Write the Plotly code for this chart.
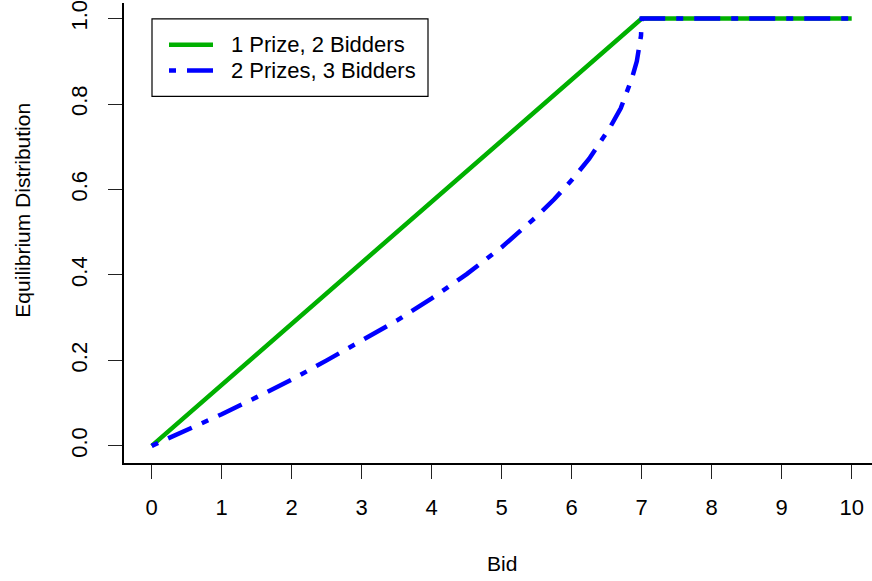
import plotly.graph_objects as go

# Equilibrium bid distributions
bid_one = [0, 7, 10]
cdf_one = [0.0, 1.0, 1.0]

bid_two = [0, 0.5, 1, 1.5, 2, 2.5, 3, 3.5, 4, 4.5, 5, 5.5, 5.75, 6, 6.25, 6.4,
           6.55, 6.7, 6.78, 6.86, 6.93, 6.97, 6.99, 7, 10]
cdf_two = [0.0, 0.036, 0.074, 0.114, 0.155, 0.20, 0.245, 0.293, 0.345, 0.402,
           0.465, 0.537, 0.577, 0.622, 0.672, 0.707, 0.746, 0.79, 0.823, 0.86,
           0.90, 0.935, 0.96, 1.0, 1.0]

series_names = ["1 Prize, 2 Bidders", "2 Prizes, 3 Bidders"]
series_colors = ["#00b000", "#0000ff"]
series_dash = ["solid", "7px,11px,26px,11px"]

x_ticks = list(range(0, 11))
y_ticks = [0.0, 0.2, 0.4, 0.6, 0.8, 1.0]
y_tick_text = ["0.0", "0.2", "0.4", "0.6", "0.8", "1.0"]

FONT = "Liberation Sans, Arial, Helvetica, sans-serif"
FS = 22
FS_TITLE = 21
LW = 4.5

W, H = 872, 581
L, R, T, B = 124, 0, 0, 118
pw, ph = W - L - R, H - T - B


def px_x(p):
    return (p - L) / pw


def px_y(p):
    return 1 - (p - T) / ph


fig = go.Figure()
for xs, ys, name, col, dash in zip([bid_one, bid_two], [cdf_one, cdf_two],
                                   series_names, series_colors, series_dash):
    fig.add_trace(go.Scatter(
        x=xs, y=ys, mode="lines", name=name, showlegend=False,
        line=dict(color=col, width=LW, dash=dash),
    ))

# Legend box drawn in pixel-based paper coordinates
shapes = [dict(type="rect", xref="paper", yref="paper",
               x0=px_x(152), x1=px_x(428), y0=px_y(94), y1=px_y(16),
               line=dict(color="black", width=1.2), fillcolor="white", layer="above")]
annotations = []
for i, (name, col, dash) in enumerate(zip(series_names, series_colors, series_dash)):
    yy = 42 + 26 * i
    shapes.append(dict(type="line", xref="paper", yref="paper",
                       x0=px_x(169), x1=px_x(213), y0=px_y(yy), y1=px_y(yy),
                       line=dict(color=col, width=LW, dash=dash), layer="above"))
    annotations.append(dict(text=name, xref="paper", yref="paper",
                            x=px_x(229), y=px_y(yy), xanchor="left", yanchor="middle",
                            showarrow=False, font=dict(family=FONT, size=FS)))

annotations += [
    dict(text="Bid", xref="x", yref="paper", x=5, y=px_y(564),
         showarrow=False, xanchor="center", yanchor="middle",
         font=dict(family=FONT, size=FS_TITLE)),
    dict(text="Equilibrium Distribution", xref="paper", yref="paper",
         x=px_x(23), y=px_y(208), textangle=-90,
         showarrow=False, xanchor="center", yanchor="middle",
         font=dict(family=FONT, size=FS_TITLE)),
]

fig.update_layout(
    width=W, height=H,
    margin=dict(l=L, r=R, t=T, b=B),
    paper_bgcolor="white", plot_bgcolor="white",
    font=dict(family=FONT, size=FS, color="black"),
    showlegend=False,
    xaxis=dict(
        range=[-0.396, 10.29], tickvals=x_ticks, ticks="outside", ticklen=14,
        tickwidth=1.4, tickcolor="#222", showline=True, linecolor="black",
        linewidth=1.6, showgrid=False, zeroline=False, ticklabelstandoff=10,
        ticklabeloverflow="allow",
    ),
    yaxis=dict(
        range=[-0.0402, 1.0365], tickvals=y_ticks, ticktext=y_tick_text,
        ticks="outside", ticklen=14, tickwidth=1.4, tickcolor="#222",
        showline=True, linecolor="black", linewidth=1.6, showgrid=False,
        zeroline=False, tickangle=-90, ticklabelstandoff=12,
        ticklabeloverflow="allow",
    ),
    shapes=shapes,
    annotations=annotations,
)

fig.write_html("out.html")
